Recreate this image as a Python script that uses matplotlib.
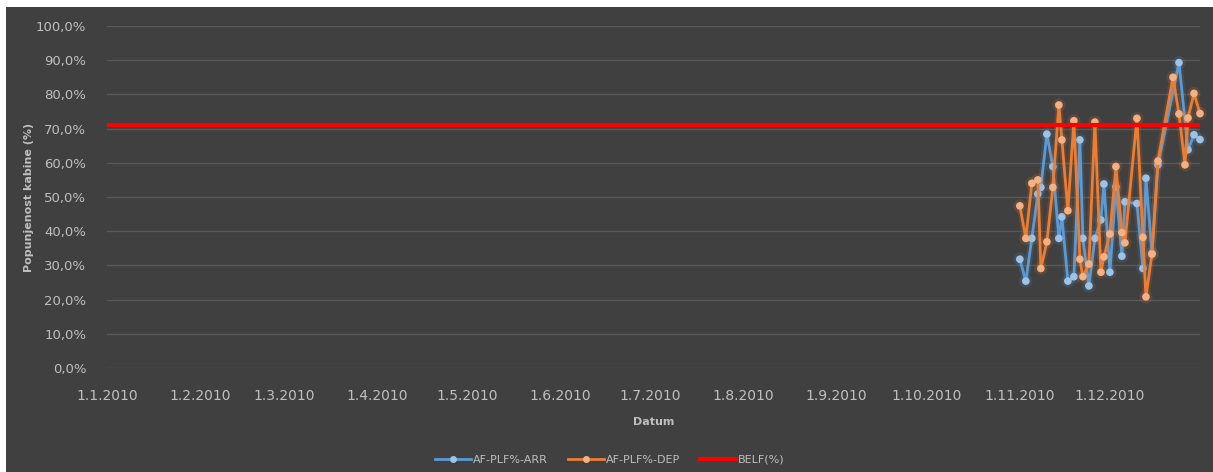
import datetime as dt
import matplotlib
matplotlib.use("Agg")
import matplotlib.pyplot as plt
import matplotlib.dates as mdates
import matplotlib.patheffects as pe
from matplotlib.patches import Rectangle
from matplotlib.ticker import FuncFormatter, MultipleLocator

# data
arr_dates = ["2010-11-01", "2010-11-03", "2010-11-05", "2010-11-07", "2010-11-08",
             "2010-11-10", "2010-11-12", "2010-11-14", "2010-11-15", "2010-11-17",
             "2010-11-19", "2010-11-21", "2010-11-22", "2010-11-24", "2010-11-26",
             "2010-11-28", "2010-11-29", "2010-12-01", "2010-12-03", "2010-12-05",
             "2010-12-06", "2010-12-10", "2010-12-12", "2010-12-13", "2010-12-15",
             "2010-12-17", "2010-12-24", "2010-12-27", "2010-12-29", "2010-12-31"]
arr_values = [31.8, 25.4, 37.9, 50.9, 52.8, 68.4, 58.9, 37.9, 44.2, 25.4,
              26.7, 66.7, 37.9, 24.0, 37.9, 43.3, 53.8, 28.0, 53.0, 32.7,
              48.6, 48.1, 29.1, 55.5, 33.5, 59.4, 89.3, 63.8, 68.2, 66.8]

dep_dates = ["2010-11-01", "2010-11-03", "2010-11-05", "2010-11-07", "2010-11-08",
             "2010-11-10", "2010-11-12", "2010-11-14", "2010-11-15", "2010-11-17",
             "2010-11-19", "2010-11-21", "2010-11-22", "2010-11-24", "2010-11-26",
             "2010-11-28", "2010-11-29", "2010-12-01", "2010-12-03", "2010-12-05",
             "2010-12-06", "2010-12-10", "2010-12-12", "2010-12-13", "2010-12-15",
             "2010-12-17", "2010-12-22", "2010-12-24", "2010-12-26", "2010-12-27",
             "2010-12-29", "2010-12-31"]
dep_values = [47.4, 37.9, 54.0, 55.0, 29.1, 36.9, 52.8, 76.9, 66.7, 46.0,
              72.3, 31.8, 26.7, 30.4, 71.9, 28.0, 32.5, 39.2, 58.9, 39.6,
              36.6, 73.0, 38.2, 20.8, 33.3, 60.5, 85.0, 74.3, 59.4, 73.1,
              80.3, 74.4]

belf = 71.0
axis_start = "2010-01-01"
axis_end = "2010-12-31"

def to_date(s):
    return dt.datetime.strptime(s, "%Y-%m-%d")

bg = "#404040"
grid_c = "#595959"
txt_c = "#bfbfbf"
blue = "#5b9bd5"
orange = "#ed7d31"

fig = plt.figure(figsize=(12.13, 4.72), dpi=100, facecolor="white")
fig.patches.append(Rectangle((6 / 1213, 0), 1, 1 - 7 / 472, transform=fig.transFigure,
                             facecolor=bg, edgecolor="none", zorder=-10))

ax = fig.add_axes([107 / 1213, 1 - 368 / 472, (1200 - 107) / 1213, (368 - 26) / 472])
ax.set_facecolor(bg)

glow_b = [pe.Stroke(linewidth=5, foreground=blue, alpha=0.15), pe.Normal()]
glow_o = [pe.Stroke(linewidth=5, foreground=orange, alpha=0.15), pe.Normal()]

l1, = ax.plot([to_date(d) for d in arr_dates], arr_values, color=blue, lw=2.0,
              marker="o", ms=4.5, mfc="#9dc3e6", mec="#9dc3e6", label="AF-PLF%-ARR",
              path_effects=glow_b, zorder=3, clip_on=False)
l2, = ax.plot([to_date(d) for d in dep_dates], dep_values, color=orange, lw=2.0,
              marker="o", ms=4.5, mfc="#f4b183", mec="#f4b183", label="AF-PLF%-DEP",
              path_effects=glow_o, zorder=4, clip_on=False)
ax.axhline(belf, color="#ff0000", lw=3, label="BELF(%)", zorder=5)

ax.set_xlim(to_date(axis_start), to_date(axis_end))
ax.set_ylim(0, 100)
ax.yaxis.set_major_locator(MultipleLocator(10))
ax.yaxis.set_major_formatter(FuncFormatter(lambda v, p: f"{v:.1f}%".replace(".", ",")))
ax.xaxis.set_major_locator(mdates.MonthLocator(bymonth=range(1, 13)))
ax.xaxis.set_major_formatter(FuncFormatter(
    lambda v, p: f"{mdates.num2date(v).day}.{mdates.num2date(v).month}.{mdates.num2date(v).year}"))

ax.grid(axis="y", color=grid_c, lw=1)
ax.set_axisbelow(True)
for s in ax.spines.values():
    s.set_visible(False)
ax.tick_params(length=0, colors=txt_c)
ax.tick_params(axis="x", labelsize=10, pad=15)
ax.tick_params(axis="y", labelsize=9.5, pad=15)

ax.set_xlabel("Datum", color=txt_c, fontsize=8, fontweight="bold", labelpad=10)
ax.set_ylabel("Popunjenost kabine (%)", color=txt_c, fontsize=8, fontweight="bold", labelpad=1)

leg = fig.legend(loc="center", bbox_to_anchor=(610 / 1213, 1 - 460 / 472), ncol=3,
                 frameon=False, fontsize=8, handlelength=3.2, handletextpad=0.2,
                 columnspacing=1.8)
for t in leg.get_texts():
    t.set_color(txt_c)
for h in leg.get_lines():
    h.set_path_effects([])
    h.set_markersize(4)

fig.savefig("out.png", dpi=100, facecolor=fig.get_facecolor())
